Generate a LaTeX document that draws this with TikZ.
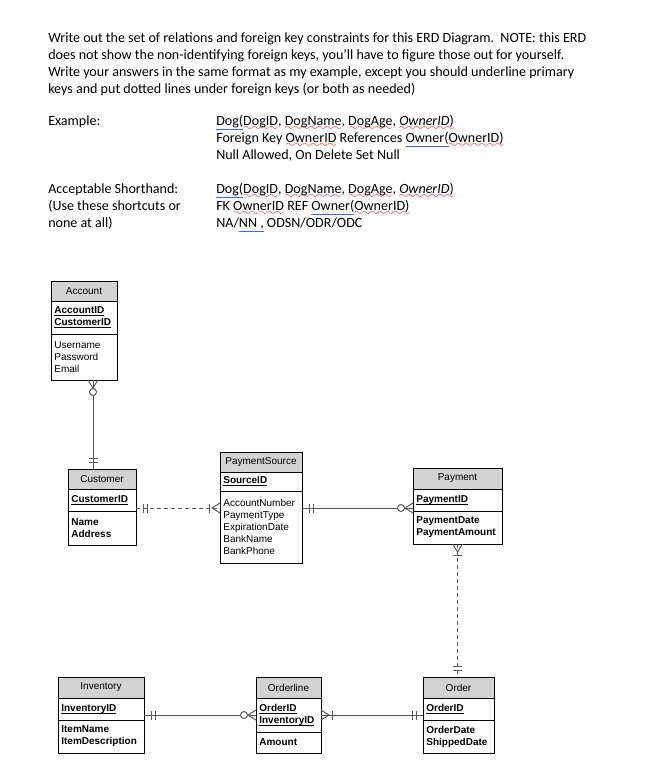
\documentclass[tikz,border=0pt]{standalone}
\usepackage{fontspec}
\setmainfont{Carlito}
\newfontfamily\erfont{Liberation Sans}
\usepackage{xcolor}
\usetikzlibrary{positioning,calc}

\definecolor{hdrgray}{HTML}{D3D3D3}
\definecolor{linegray}{HTML}{5A5A5A}
\definecolor{wordblue}{HTML}{3B6FD6}

\font\wavefont=lasy8
\newcommand{\redwave}[1]{\leavevmode\setbox0\hbox{#1}\rlap{\lower3.4pt\hbox to\wd0{\color{red}\xleaders\hbox{\wavefont\char58}\hfill}}\box0\relax}
\newcommand{\blueline}[1]{\leavevmode\setbox0\hbox{#1}\rlap{\color{wordblue}\rule[-2.6pt]{\wd0}{0.7pt}}\box0\relax}
\newcommand{\pkey}[1]{\leavevmode\setbox0\hbox{\textbf{#1}}\rlap{\rule[-1.6pt]{\wd0}{0.6pt}}\box0\relax}

\begin{document}
\begin{tikzpicture}[
    x=0.75pt, y=-0.75pt,
    txt/.style={anchor=base west, inner sep=0pt, font=\fontsize{10.55}{13}\selectfont},
    hdr/.style={draw, fill=hdrgray, line width=0.6pt, outer sep=0pt, inner sep=0pt, anchor=north, font=\erfont\fontsize{7.5}{9}\selectfont},
    sect/.style={draw, line width=0.6pt, outer sep=0pt, inner xsep=2.5pt, inner ysep=0pt, align=left, font=\erfont\fontsize{7.5}{9}\selectfont},
    bsect/.style={sect, font=\erfont\fontsize{7.5}{9}\selectfont\bfseries},
    conn/.style={draw=linegray, line width=0.75pt},
    dashline/.style={dash pattern=on 3pt off 2.25pt},
    crowfoot/.pic={\draw[conn] (0,-5) -- (8,0) -- (0,5);},
    zeroring/.pic={\draw[conn, fill=white] (12,0) circle[radius=3.5];},
    onebar/.pic={\draw[conn] (11,-4.5) -- (11,4.5);},
    twobars/.pic={\draw[conn] (7,-4.5) -- (7,4.5) (11,-4.5) -- (11,4.5);}
  ]
    \useasboundingbox (0,0) rectangle (660,766);

    % question text
    \foreach \txtline [count=\i] in {
      {Write out the set of relations and foreign key constraints for this ERD Diagram.\ \ NOTE: this ERD},
      {does not show the non-identifying foreign keys, you’ll have to figure those out for yourself.},
      {Write your answers in the same format as my example, except you should underline primary},
      {keys and put dotted lines under foreign keys (or both as needed)}}
      \node[txt] (par\i) at (48, 26+17*\i) {\txtline};

    \node[txt] (exlbl) at (48,126) {Example:};
    \node[txt] (ex1) at (216,126) {\blueline{Dog(}\redwave{DogID}, \redwave{DogName}, \redwave{DogAge}, \redwave{\textit{OwnerID})}};
    \node[txt] (ex2) at (216,143) {Foreign Key \redwave{OwnerID} References \blueline{Owner(}\redwave{OwnerID)}};
    \node[txt] (ex3) at (216,160) {Null Allowed, On Delete Set Null};

    \node[txt] (shlbl1) at (48,194) {Acceptable Shorthand:};
    \node[txt] (shlbl2) at (48,211) {(Use these shortcuts or};
    \node[txt] (shlbl3) at (48,228) {none at all)};
    \node[txt] (sh1) at (216,194) {\blueline{Dog(}\redwave{DogID}, \redwave{DogName}, \redwave{DogAge}, \redwave{\textit{OwnerID})}};
    \node[txt] (sh2) at (216,211) {FK \redwave{OwnerID} REF \blueline{Owner(}\redwave{OwnerID)}};
    \node[txt] (sh3) at (216,228) {NA/\blueline{NN ,} ODSN/ODR/ODC};

    % entities
    \node[hdr, minimum width=49.5pt, minimum height=15pt] (acch) at (84,281) {Account};
    \node[sect, text width=44.5pt, minimum height=24.75pt, below=0pt of acch] (acck) {\pkey{AccountID}\\\pkey{CustomerID}};
    \node[sect, text width=44.5pt, minimum height=34.5pt, below=0pt of acck] (acca) {Username\\Password\\Email};

    \node[hdr, minimum width=51pt, minimum height=15pt] (cush) at (102,469) {Customer};
    \node[sect, text width=46pt, minimum height=16.5pt, below=0pt of cush] (cusk) {\pkey{CustomerID}};
    \node[bsect, text width=46pt, minimum height=25.5pt, below=0pt of cusk] (cusa) {Name\\Address};

    \node[hdr, minimum width=61.5pt, minimum height=15pt] (psh) at (261,452) {PaymentSource};
    \node[sect, text width=56.5pt, minimum height=14.25pt, below=0pt of psh] (psk) {\pkey{SourceID}};
    \node[sect, text width=56.5pt, minimum height=54pt, below=0pt of psk] (psa) {AccountNumber\\PaymentType\\ExpirationDate\\BankName\\BankPhone};

    \node[hdr, minimum width=66.75pt, minimum height=15.75pt] (payh) at (457.5,468) {Payment};
    \node[sect, text width=61.75pt, minimum height=16.5pt, below=0pt of payh] (payk) {\pkey{PaymentID}};
    \node[bsect, text width=61.75pt, minimum height=24.75pt, below=0pt of payk] (paya) {PaymentDate\\PaymentAmount};

    \node[hdr, minimum width=64.5pt, minimum height=15.75pt] (invh) at (101,677) {Inventory};
    \node[sect, text width=59.5pt, minimum height=16.5pt, below=0pt of invh] (invk) {\pkey{InventoryID}};
    \node[bsect, text width=59.5pt, minimum height=24.75pt, below=0pt of invk] (inva) {ItemName\\ItemDescription};

    \node[hdr, minimum width=48.75pt, minimum height=15.75pt] (olh) at (288.5,677) {Orderline};
    \node[sect, text width=43.75pt, minimum height=25.5pt, below=0pt of olh] (olk) {\pkey{OrderID}\\\pkey{InventoryID}};
    \node[bsect, text width=43.75pt, minimum height=15.75pt, below=0pt of olk] (ola) {Amount};

    \node[hdr, minimum width=53.25pt, minimum height=15.75pt] (ordh) at (458.5,677) {Order};
    \node[sect, text width=48.25pt, minimum height=16.5pt, below=0pt of ordh] (ordk) {\pkey{OrderID}};
    \node[bsect, text width=48.25pt, minimum height=24.75pt, below=0pt of ordk] (orda) {OrderDate\\ShippedDate};

    % relationships
    \coordinate (accx) at (93,0);
    \coordinate (row1) at (0,508);

    \draw[conn] (acca.south -| accx) -- (cush.north -| accx);
    \pic[rotate=-90] at (acca.south -| accx) {crowfoot};
    \pic[rotate=-90] at (acca.south -| accx) {zeroring};
    \pic[rotate=90] at (cush.north -| accx) {twobars};

    \draw[conn, dashline] (row1 -| cusk.east) -- (row1 -| psa.west);
    \pic at (row1 -| cusk.east) {twobars};
    \pic[rotate=180] at (row1 -| psa.west) {crowfoot};
    \pic[rotate=180] at (row1 -| psa.west) {onebar};

    \draw[conn] (row1 -| psa.east) -- (row1 -| payk.west);
    \pic at (row1 -| psa.east) {twobars};
    \pic[rotate=180] at (row1 -| payk.west) {crowfoot};
    \pic[rotate=180] at (row1 -| payk.west) {zeroring};

    \draw[conn, dashline] (paya.south) -- (paya.south |- ordh.north);
    \pic[rotate=-90] at (paya.south) {crowfoot};
    \pic[rotate=-90] at (paya.south) {onebar};
    \pic[rotate=90] at (paya.south |- ordh.north) {twobars};

    \draw[conn] (olk.west -| invk.east) -- (olk.west);
    \pic at (olk.west -| invk.east) {twobars};
    \pic[rotate=180] at (olk.west) {crowfoot};
    \pic[rotate=180] at (olk.west) {zeroring};

    \draw[conn] (olk.east) -- (olk.east -| ordk.west);
    \pic at (olk.east) {crowfoot};
    \pic at (olk.east) {onebar};
    \pic[rotate=180] at (olk.east -| ordk.west) {twobars};
  \end{tikzpicture}
\end{document}
